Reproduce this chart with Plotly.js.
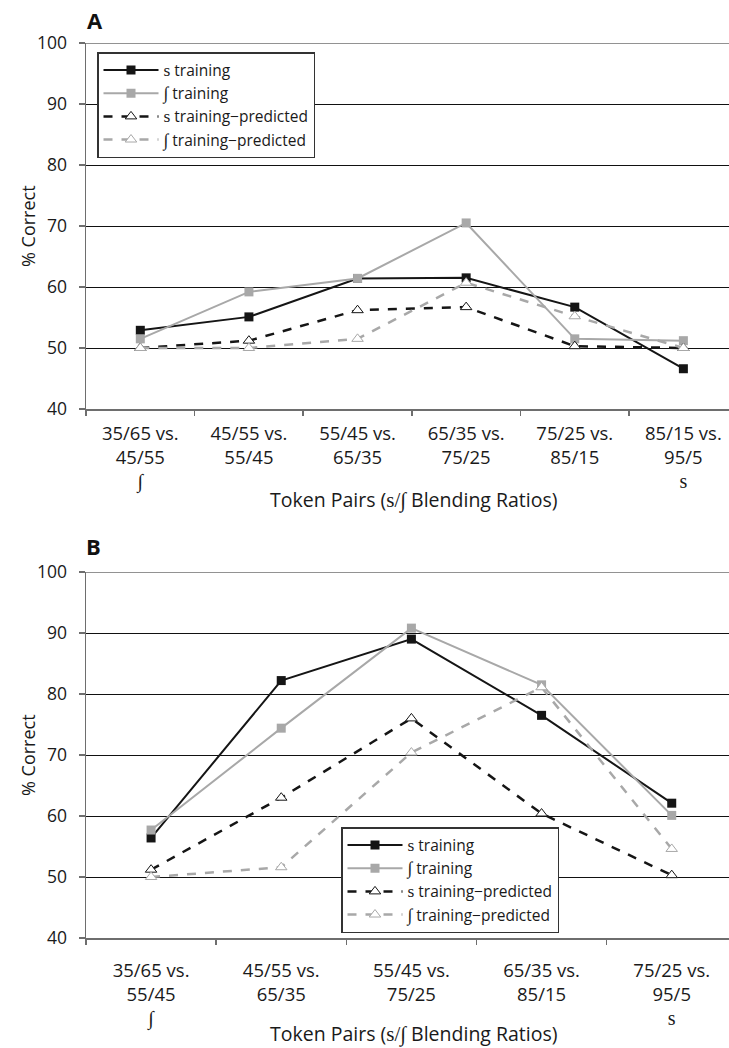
<!DOCTYPE html>
<html>
<head>
<meta charset="utf-8">
<script src="https://cdn.plot.ly/plotly-3.0.1.min.js"></script>
<style>html,body{margin:0;padding:0;background:#fff;}#chart{width:729px;height:1048px;}</style>
</head>
<body>
<div id="chart"></div>
<script>
// ---------- data ----------
const pairsTopA = ["35/65 vs.", "45/55 vs.", "55/45 vs.", "65/35 vs.", "75/25 vs.", "85/15 vs."];
const pairsBotA = ["45/55", "55/45", "65/35", "75/25", "85/15", "95/5"];
const endMarksA = ["∫", "", "", "", "", "s"];

const pairsTopB = ["35/65 vs.", "45/55 vs.", "55/45 vs.", "65/35 vs.", "75/25 vs."];
const pairsBotB = ["55/45", "65/35", "75/25", "85/15", "95/5"];
const endMarksB = ["∫", "", "", "", "s"];

const sTrainA      = [52.9, 55.1, 61.4, 61.5, 56.7, 46.6];
const shTrainA     = [51.5, 59.2, 61.4, 70.5, 51.5, 51.2];
const sPredA       = [50.0, 51.2, 56.2, 56.7, 50.3, 50.0];
const shPredA      = [50.0, 50.0, 51.5, 60.7, 55.2, 50.0];

const sTrainB      = [56.4, 82.2, 89.0, 76.5, 62.1];
const shTrainB     = [57.7, 74.4, 90.8, 81.5, 60.1];
const sPredB       = [51.2, 63.0, 76.0, 60.4, 50.3];
const shPredB      = [50.0, 51.6, 70.4, 81.1, 54.6];

const yTicks = [40, 50, 60, 70, 80, 90, 100];
const seriesNames = ["s training", "∫ training", "s training−predicted", "∫ training−predicted"];

// ---------- helpers ----------
const serif = (t, size) => '<span style="font-family:Liberation Serif;font-size:' + size + 'px">' + t + '</span>';
function labels(top, bot, marks) {
  return top.map((t, i) => t + '<br>' + bot[i] + (marks[i] ? '<br>' + serif(marks[i], 20) : ''));
}
const catsA = labels(pairsTopA, pairsBotA, endMarksA);
const catsB = labels(pairsTopB, pairsBotB, endMarksB);
function legendName(n) {
  return n.replace(/^(s|∫)/, m => serif(m, 17.5));
}

const BLACK = '#151515', GRAY = '#a8a8a8', AXIS = '#6e6e6e';
const FONT = 'Open Sans, Liberation Sans, sans-serif';

function traces(cats, vals, xa, ya, leg) {
  const [st, sh, sp, shp] = vals;
  return [
    {x: cats, y: st, name: legendName(seriesNames[0]), type: 'scatter', mode: 'lines+markers',
     line: {color: BLACK, width: 2}, marker: {symbol: 'square', size: 9, color: BLACK},
     xaxis: xa, yaxis: ya, legend: leg},
    {x: cats, y: sh, name: legendName(seriesNames[1]), type: 'scatter', mode: 'lines+markers',
     line: {color: GRAY, width: 2}, marker: {symbol: 'square', size: 9, color: GRAY},
     xaxis: xa, yaxis: ya, legend: leg},
    {x: cats, y: sp, name: legendName(seriesNames[2]), type: 'scatter', mode: 'lines+markers',
     line: {color: BLACK, width: 2.5, dash: '9px,9px'},
     marker: {symbol: 'triangle-up', size: 10, color: '#ffffff', line: {color: BLACK, width: 1}},
     xaxis: xa, yaxis: ya, legend: leg},
    {x: cats, y: shp, name: legendName(seriesNames[3]), type: 'scatter', mode: 'lines+markers',
     line: {color: GRAY, width: 2.5, dash: '9px,9px'},
     marker: {symbol: 'triangle-up', size: 10, color: '#ffffff', line: {color: GRAY, width: 1}},
     xaxis: xa, yaxis: ya, legend: leg}
  ];
}

const data = [].concat(
  traces(catsA, [sTrainA, shTrainA, sPredA, shPredA], 'x', 'y', 'legend'),
  traces(catsB, [sTrainB, shTrainB, sPredB, shPredB], 'x2', 'y2', 'legend2')
);

const H = 1048, W = 729;
const py = v => (H - v) / H;   // pixel-from-top -> paper fraction
const px = v => v / W;

function xAxis(domain, range, anchor, standoff) {
  return {
    domain: domain, range: range, type: 'category', anchor: anchor,
    tickson: 'boundaries', ticks: 'outside', ticklen: 5, tickwidth: 1.5, tickcolor: AXIS,
    showline: true, linecolor: AXIS, linewidth: 1.5, showgrid: false, zeroline: false,
    tickangle: 0, automargin: false, ticklabelstandoff: standoff,
    tickfont: {family: FONT, size: 18.5, color: '#1a1a1a'}, fixedrange: true
  };
}
function yAxis(domain, anchor) {
  return {
    domain: domain, range: [40, 100], anchor: anchor, tickvals: yTicks,
    ticks: 'outside', ticklen: 6, tickwidth: 1.5, tickcolor: AXIS,
    showline: true, linecolor: AXIS, linewidth: 1.5,
    showgrid: true, gridcolor: '#111111', gridwidth: 1, zeroline: false,
    automargin: false, ticklabelstandoff: 8,
    tickfont: {family: FONT, size: 17.5, color: '#1a1a1a'}, fixedrange: true
  };
}

const legendCommon = {
  xanchor: 'left', yanchor: 'top', bgcolor: '#ffffff', bordercolor: '#333333', borderwidth: 1.5,
  font: {family: FONT, size: 15.5, color: '#1a1a1a'}, itemwidth: 55, tracegroupgap: 0,
  itemclick: false, itemdoubleclick: false
};

const TITLE = 'Token Pairs (' + serif('s/∫', 21) + ' Blending Ratios)';
const layout = {
  width: W, height: H,
  margin: {l: 0, r: 0, t: 0, b: 0, pad: 0},
  paper_bgcolor: '#ffffff', plot_bgcolor: '#ffffff',
  showlegend: true,
  xaxis: xAxis([px(86), 1], [-0.5, 5.42], 'y', 7),
  yaxis: yAxis([py(409), py(43)], 'x'),
  xaxis2: xAxis([px(86), 1], [-0.5, 4.44], 'y2', 15),
  yaxis2: yAxis([py(938), py(572)], 'x2'),
  legend: Object.assign({}, legendCommon, {x: px(97), y: py(52)}),
  legend2: Object.assign({}, legendCommon, {x: px(341), y: py(827)}),
  shapes: [
    {type: 'line', xref: 'x domain', yref: 'y', x0: 0, x1: 1, y0: 100, y1: 100,
     line: {color: AXIS, width: 1.5}, layer: 'above'},
    {type: 'line', xref: 'x2 domain', yref: 'y2', x0: 0, x1: 1, y0: 100, y1: 100,
     line: {color: AXIS, width: 1.5}, layer: 'above'}
  ],
  annotations: [
    {text: '<b>A</b>', xref: 'paper', yref: 'paper', x: px(85), y: py(20), xanchor: 'left', yanchor: 'middle',
     showarrow: false, font: {family: FONT, size: 22, color: '#111'}},
    {text: '<b>B</b>', xref: 'paper', yref: 'paper', x: px(84), y: py(546), xanchor: 'left', yanchor: 'middle',
     showarrow: false, font: {family: FONT, size: 22, color: '#111'}},
    {text: '% Correct', xref: 'paper', yref: 'paper', x: px(28), y: py(226), textangle: -90,
     xanchor: 'center', yanchor: 'middle', showarrow: false, font: {family: FONT, size: 18, color: '#1a1a1a'}},
    {text: '% Correct', xref: 'paper', yref: 'paper', x: px(28), y: py(755), textangle: -90,
     xanchor: 'center', yanchor: 'middle', showarrow: false, font: {family: FONT, size: 18, color: '#1a1a1a'}},
    {text: TITLE, xref: 'paper', yref: 'paper', x: px(414), y: py(499),
     xanchor: 'center', yanchor: 'middle', showarrow: false, font: {family: FONT, size: 19.5, color: '#1a1a1a'}},
    {text: TITLE, xref: 'paper', yref: 'paper', x: px(414), y: py(1033),
     xanchor: 'center', yanchor: 'middle', showarrow: false, font: {family: FONT, size: 19.5, color: '#1a1a1a'}}
  ]
};

Plotly.newPlot('chart', data, layout, {displayModeBar: false, staticPlot: true});
</script>
</body>
</html>
